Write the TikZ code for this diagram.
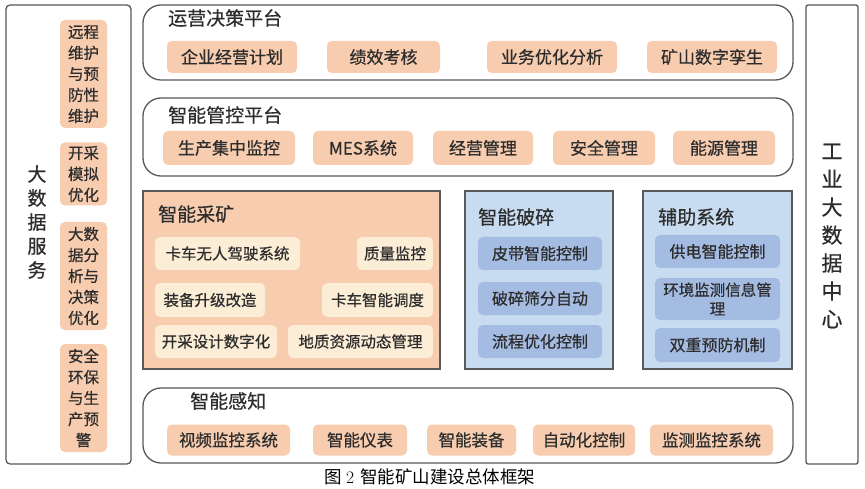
\documentclass[tikz,border=0pt]{standalone}
\usepackage{fontspec}
\newfontfamily\cjk[FakeBold=0.6]{Noto Sans CJK SC}
\newfontfamily\cjkcap{Noto Sans CJK SC}
\tikzset{
  frame/.style={draw=black!65, line width=1.3pt},
  plat/.style={frame, rounded corners=18pt, fill=white},
  item/.style={rectangle, rounded corners=5pt, fill=peach, text=txt, inner sep=0pt,
    font=\cjk\fontsize{17}{19}\selectfont},
  vitem/.style={item, align=center, font=\cjk\fontsize{15.5}{21}\selectfont},
  citem/.style={item, fill=cream, font=\cjk\fontsize{15.5}{18}\selectfont},
  bitem/.style={item, fill=bluei, font=\cjk\fontsize{16}{18}\selectfont},
  sitem/.style={item, font=\cjk\fontsize{16.5}{18}\selectfont},
  ttl/.style={text=txt, font=\cjk\fontsize{19}{21}\selectfont, inner sep=0pt},
}
\definecolor{peach}{RGB}{247,204,175}
\definecolor{cream}{RGB}{252,237,214}
\definecolor{bluebg}{RGB}{200,220,241}
\definecolor{bluei}{RGB}{164,187,226}
\definecolor{txt}{RGB}{45,45,45}
\begin{document}
\begin{tikzpicture}[x=1pt,y=-1pt]
\useasboundingbox[fill=white] (0,0) rectangle (865,489);
% left column
\draw[frame, rounded corners=4pt] (6,5) rectangle (131,464);
\node[ttl, align=center, font=\cjk\fontsize{19}{24}\selectfont] (dsj) at (37,222) {大\\数\\据\\服\\务};
\node[vitem, minimum width=47, minimum height=108] (l1) at (83.5,74) {远程\\维护\\与预\\防性\\维护};
\node[vitem, minimum width=47, minimum height=63] (l2) at (83.5,174) {开采\\模拟\\优化};
\node[vitem, minimum width=47, minimum height=108] (l3) at (83.5,276) {大数\\据分\\析与\\决策\\优化};
\node[vitem, minimum width=47, minimum height=108] (l4) at (83.5,398) {安全\\环保\\与生\\产预\\警};
% right column
\draw[frame, rounded corners=2pt] (806,5) rectangle (858,464);
\node[ttl, align=center, font=\cjk\fontsize{21}{28}\selectfont] (gy) at (832,236) {工\\业\\大\\数\\据\\中\\心};
% platform 1
\draw[plat] (143,5) rectangle (793,80);
\node[ttl, anchor=west] (t1) at (168,18) {运营决策平台};
\node[item, minimum width=130, minimum height=32] (a1) at (232,57) {企业经营计划};
\node[item, minimum width=113, minimum height=32] (a2) at (383.5,57) {绩效考核};
\node[item, minimum width=130, minimum height=32] (a3) at (552,57) {业务优化分析};
\node[item, minimum width=130, minimum height=32] (a4) at (712,57) {矿山数字孪生};
% platform 2
\draw[plat] (143,98) rectangle (793,176);
\node[ttl, anchor=west] (t2) at (168,115) {智能管控平台};
\node[item, minimum width=132, minimum height=34] (b1) at (229,148) {生产集中监控};
\node[item, minimum width=100, minimum height=34] (b2) at (363,148) {MES系统};
\node[item, minimum width=100, minimum height=34] (b3) at (483,148) {经营管理};
\node[item, minimum width=102, minimum height=34] (b4) at (604,148) {安全管理};
\node[item, minimum width=102, minimum height=34] (b5) at (724,148) {能源管理};
% mining
\draw[frame, fill=peach] (143,191) rectangle (440,369);
\node[ttl, anchor=west] (t3) at (158,214) {智能采矿};
\node[citem, minimum width=145, minimum height=33] (c1) at (227.5,253.5) {卡车无人驾驶系统};
\node[citem, minimum width=76, minimum height=33] (c2) at (395,253.5) {质量监控};
\node[citem, minimum width=110, minimum height=34] (c3) at (210,300) {装备升级改造};
\node[citem, minimum width=111, minimum height=34] (c4) at (377.5,300) {卡车智能调度};
\node[citem, minimum width=122, minimum height=33] (c5) at (216,341.5) {开采设计数字化};
\node[citem, minimum width=145, minimum height=33] (c6) at (360.5,341.5) {地质资源动态管理};
% crushing
\draw[frame, fill=bluebg] (465,191) rectangle (613,369);
\node[ttl, anchor=west] (t4) at (478,217) {智能破碎};
\node[bitem, minimum width=124, minimum height=33] (d1) at (540,253.5) {皮带智能控制};
\node[bitem, minimum width=124, minimum height=33] (d2) at (540,298.5) {破碎筛分自动};
\node[bitem, minimum width=124, minimum height=33] (d3) at (540,341.5) {流程优化控制};
% auxiliary
\draw[frame, fill=bluebg] (643,191) rectangle (792,369);
\node[ttl, anchor=west] (t5) at (658,217) {辅助系统};
\node[bitem, minimum width=125, minimum height=33] (e1) at (717.5,251.5) {供电智能控制};
\node[bitem, minimum width=125, minimum height=42, align=center, font=\cjk\fontsize{15.5}{19}\selectfont] (e2) at (717.5,299) {环境监测信息管\\理};
\node[bitem, minimum width=125, minimum height=34] (e3) at (717.5,345) {双重预防机制};
% sensing
\draw[plat] (143,388) rectangle (793,463);
\node[ttl, anchor=west] (t6) at (190,401) {智能感知};
\node[sitem, minimum width=123, minimum height=31] (f1) at (228.5,440) {视频监控系统};
\node[sitem, minimum width=94, minimum height=31] (f2) at (360,440) {智能仪表};
\node[sitem, minimum width=89, minimum height=31] (f3) at (471.5,440) {智能装备};
\node[sitem, minimum width=102, minimum height=31] (f4) at (584,440) {自动化控制};
\node[sitem, minimum width=123, minimum height=31] (f5) at (711.5,440) {监测监控系统};
% caption
\node[text=black, font=\cjkcap\fontsize{17.5}{19}\selectfont, inner sep=0pt] (cap) at (430,477) {图\hspace{4pt}{\rmfamily 2}\hspace{6pt}智能矿山建设总体框架};
\end{tikzpicture}
\end{document}
